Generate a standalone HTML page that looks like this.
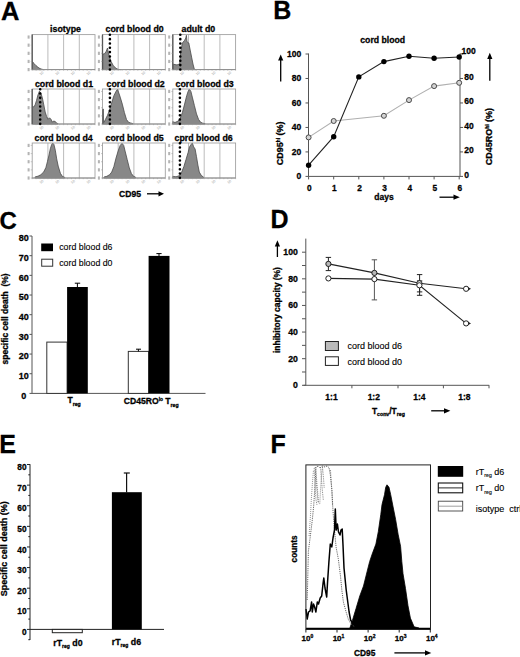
<!DOCTYPE html>
<html><head><meta charset="utf-8"><style>
html,body{margin:0;padding:0;background:#fff;}
svg{display:block;}
text{font-family:"Liberation Sans", sans-serif;}
text{stroke:#000;stroke-width:0.12px;}
text[font-weight=bold]{stroke:#000;stroke-width:0.28px;}
</style></head><body>
<svg width="520" height="657" viewBox="0 0 520 657" font-family='"Liberation Sans", sans-serif'>
<rect width="520" height="657" fill="#fff"/>
<text x="1.0" y="19.5" font-size="25.5" font-weight="bold" text-anchor="start" fill="#000" >A</text>
<line x1="47.9" y1="34.6" x2="47.9" y2="69.6" stroke="#b4b4b4" stroke-width="0.9" />
<line x1="63.6" y1="34.6" x2="63.6" y2="69.6" stroke="#b4b4b4" stroke-width="0.9" />
<line x1="79.3" y1="34.6" x2="79.3" y2="69.6" stroke="#b4b4b4" stroke-width="0.9" />
<polygon points="32.50,69.60 32.50,61.50 34.00,63.60 36.00,65.60 38.00,67.30 40.00,68.60 42.00,69.30 44.00,69.60 44.00,69.60" fill="#888" stroke="#4a4a4a" stroke-width="0.8" stroke-linejoin="round"/>
<rect x="32.2" y="34.6" width="62.8" height="35.0" fill="none" stroke="#a2a2a2" stroke-width="0.9"/>
<line x1="32.2" y1="69.6" x2="95" y2="69.6" stroke="#8a8a8a" stroke-width="0.9" />
<line x1="32.2" y1="34.6" x2="32.2" y2="69.6" stroke="#555" stroke-width="1.3" />
<line x1="32.2" y1="69.6" x2="32.2" y2="70.8" stroke="#999" stroke-width="0.5" />
<line x1="36.12" y1="69.6" x2="36.12" y2="70.8" stroke="#999" stroke-width="0.5" />
<line x1="40.05" y1="69.6" x2="40.05" y2="70.8" stroke="#999" stroke-width="0.5" />
<line x1="43.98" y1="69.6" x2="43.98" y2="70.8" stroke="#999" stroke-width="0.5" />
<line x1="47.9" y1="69.6" x2="47.9" y2="70.8" stroke="#999" stroke-width="0.5" />
<line x1="51.83" y1="69.6" x2="51.83" y2="70.8" stroke="#999" stroke-width="0.5" />
<line x1="55.75" y1="69.6" x2="55.75" y2="70.8" stroke="#999" stroke-width="0.5" />
<line x1="59.67" y1="69.6" x2="59.67" y2="70.8" stroke="#999" stroke-width="0.5" />
<line x1="63.6" y1="69.6" x2="63.6" y2="70.8" stroke="#999" stroke-width="0.5" />
<line x1="67.53" y1="69.6" x2="67.53" y2="70.8" stroke="#999" stroke-width="0.5" />
<line x1="71.45" y1="69.6" x2="71.45" y2="70.8" stroke="#999" stroke-width="0.5" />
<line x1="75.38" y1="69.6" x2="75.38" y2="70.8" stroke="#999" stroke-width="0.5" />
<line x1="79.3" y1="69.6" x2="79.3" y2="70.8" stroke="#999" stroke-width="0.5" />
<line x1="83.22" y1="69.6" x2="83.22" y2="70.8" stroke="#999" stroke-width="0.5" />
<line x1="87.15" y1="69.6" x2="87.15" y2="70.8" stroke="#999" stroke-width="0.5" />
<line x1="91.08" y1="69.6" x2="91.08" y2="70.8" stroke="#999" stroke-width="0.5" />
<line x1="95" y1="69.6" x2="95" y2="70.8" stroke="#999" stroke-width="0.5" />
<line x1="30.7" y1="69.6" x2="32.2" y2="69.6" stroke="#999" stroke-width="0.5" />
<rect x="27.6" y="68.0" width="2" height="3.2" fill="#b4b4b4"/>
<line x1="30.7" y1="61.46" x2="32.2" y2="61.46" stroke="#999" stroke-width="0.5" />
<rect x="27.6" y="59.860465116279066" width="2" height="3.2" fill="#b4b4b4"/>
<line x1="30.7" y1="53.32" x2="32.2" y2="53.32" stroke="#999" stroke-width="0.5" />
<rect x="27.6" y="51.72093023255813" width="2" height="3.2" fill="#b4b4b4"/>
<line x1="30.7" y1="45.18" x2="32.2" y2="45.18" stroke="#999" stroke-width="0.5" />
<rect x="27.6" y="43.5813953488372" width="2" height="3.2" fill="#b4b4b4"/>
<line x1="30.7" y1="37.04" x2="32.2" y2="37.04" stroke="#999" stroke-width="0.5" />
<rect x="27.6" y="35.44186046511627" width="2" height="3.2" fill="#b4b4b4"/>
<text x="40.70" y="75.60" font-size="3.6" fill="#a0a0a0" style="stroke:none" transform="rotate(-40 40.70 75.60)">10</text>
<text x="56.40" y="75.60" font-size="3.6" fill="#a0a0a0" style="stroke:none" transform="rotate(-40 56.40 75.60)">10</text>
<text x="72.10" y="75.60" font-size="3.6" fill="#a0a0a0" style="stroke:none" transform="rotate(-40 72.10 75.60)">10</text>
<text x="87.80" y="75.60" font-size="3.6" fill="#a0a0a0" style="stroke:none" transform="rotate(-40 87.80 75.60)">10</text>
<text x="50.099999999999994" y="32.300000000000004" font-size="8.8" font-weight="bold" text-anchor="start" fill="#000" >isotype</text>
<line x1="118.2" y1="34.6" x2="118.2" y2="69.6" stroke="#b4b4b4" stroke-width="0.9" />
<line x1="133.9" y1="34.6" x2="133.9" y2="69.6" stroke="#b4b4b4" stroke-width="0.9" />
<line x1="149.6" y1="34.6" x2="149.6" y2="69.6" stroke="#b4b4b4" stroke-width="0.9" />
<polygon points="102.60,69.60 102.60,54.30 104.70,53.60 106.10,51.50 107.50,48.00 108.20,52.20 109.60,57.10 111.00,61.30 113.20,65.50 116.00,68.30 118.10,69.40 121.00,69.60 121.00,69.60" fill="#888" stroke="#4a4a4a" stroke-width="0.8" stroke-linejoin="round"/>
<rect x="102.5" y="34.6" width="62.8" height="35.0" fill="none" stroke="#a2a2a2" stroke-width="0.9"/>
<line x1="102.5" y1="69.6" x2="165.3" y2="69.6" stroke="#8a8a8a" stroke-width="0.9" />
<line x1="102.5" y1="34.6" x2="102.5" y2="69.6" stroke="#555" stroke-width="1.3" />
<line x1="102.5" y1="69.6" x2="102.5" y2="70.8" stroke="#999" stroke-width="0.5" />
<line x1="106.42" y1="69.6" x2="106.42" y2="70.8" stroke="#999" stroke-width="0.5" />
<line x1="110.35" y1="69.6" x2="110.35" y2="70.8" stroke="#999" stroke-width="0.5" />
<line x1="114.28" y1="69.6" x2="114.28" y2="70.8" stroke="#999" stroke-width="0.5" />
<line x1="118.2" y1="69.6" x2="118.2" y2="70.8" stroke="#999" stroke-width="0.5" />
<line x1="122.12" y1="69.6" x2="122.12" y2="70.8" stroke="#999" stroke-width="0.5" />
<line x1="126.05" y1="69.6" x2="126.05" y2="70.8" stroke="#999" stroke-width="0.5" />
<line x1="129.97" y1="69.6" x2="129.97" y2="70.8" stroke="#999" stroke-width="0.5" />
<line x1="133.9" y1="69.6" x2="133.9" y2="70.8" stroke="#999" stroke-width="0.5" />
<line x1="137.82" y1="69.6" x2="137.82" y2="70.8" stroke="#999" stroke-width="0.5" />
<line x1="141.75" y1="69.6" x2="141.75" y2="70.8" stroke="#999" stroke-width="0.5" />
<line x1="145.68" y1="69.6" x2="145.68" y2="70.8" stroke="#999" stroke-width="0.5" />
<line x1="149.6" y1="69.6" x2="149.6" y2="70.8" stroke="#999" stroke-width="0.5" />
<line x1="153.53" y1="69.6" x2="153.53" y2="70.8" stroke="#999" stroke-width="0.5" />
<line x1="157.45" y1="69.6" x2="157.45" y2="70.8" stroke="#999" stroke-width="0.5" />
<line x1="161.38" y1="69.6" x2="161.38" y2="70.8" stroke="#999" stroke-width="0.5" />
<line x1="165.3" y1="69.6" x2="165.3" y2="70.8" stroke="#999" stroke-width="0.5" />
<line x1="101" y1="69.6" x2="102.5" y2="69.6" stroke="#999" stroke-width="0.5" />
<rect x="97.9" y="68.0" width="2" height="3.2" fill="#b4b4b4"/>
<line x1="101" y1="61.46" x2="102.5" y2="61.46" stroke="#999" stroke-width="0.5" />
<rect x="97.9" y="59.860465116279066" width="2" height="3.2" fill="#b4b4b4"/>
<line x1="101" y1="53.32" x2="102.5" y2="53.32" stroke="#999" stroke-width="0.5" />
<rect x="97.9" y="51.72093023255813" width="2" height="3.2" fill="#b4b4b4"/>
<line x1="101" y1="45.18" x2="102.5" y2="45.18" stroke="#999" stroke-width="0.5" />
<rect x="97.9" y="43.5813953488372" width="2" height="3.2" fill="#b4b4b4"/>
<line x1="101" y1="37.04" x2="102.5" y2="37.04" stroke="#999" stroke-width="0.5" />
<rect x="97.9" y="35.44186046511627" width="2" height="3.2" fill="#b4b4b4"/>
<text x="111.00" y="75.60" font-size="3.6" fill="#a0a0a0" style="stroke:none" transform="rotate(-40 111.00 75.60)">10</text>
<text x="126.70" y="75.60" font-size="3.6" fill="#a0a0a0" style="stroke:none" transform="rotate(-40 126.70 75.60)">10</text>
<text x="142.40" y="75.60" font-size="3.6" fill="#a0a0a0" style="stroke:none" transform="rotate(-40 142.40 75.60)">10</text>
<text x="158.10" y="75.60" font-size="3.6" fill="#a0a0a0" style="stroke:none" transform="rotate(-40 158.10 75.60)">10</text>
<line x1="109.9" y1="34.800000000000004" x2="109.9" y2="70.19999999999999" stroke="#000" stroke-width="2.6" stroke-linecap="round" stroke-dasharray="0 4.33"/>
<text x="105.5" y="32.300000000000004" font-size="8.8" font-weight="bold" text-anchor="start" fill="#000" >cord blood d0</text>
<line x1="188.5" y1="34.6" x2="188.5" y2="69.6" stroke="#b4b4b4" stroke-width="0.9" />
<line x1="204.2" y1="34.6" x2="204.2" y2="69.6" stroke="#b4b4b4" stroke-width="0.9" />
<line x1="219.9" y1="34.6" x2="219.9" y2="69.6" stroke="#b4b4b4" stroke-width="0.9" />
<polygon points="173.30,69.60 173.30,64.10 175.00,64.60 177.00,64.90 179.60,64.00 181.00,50.10 182.40,43.00 184.60,40.30 185.80,38.00 186.40,35.30 187.00,41.70 188.80,43.00 190.20,50.10 191.60,57.10 193.00,64.10 194.40,69.40 196.00,69.60 196.00,69.60" fill="#888" stroke="#4a4a4a" stroke-width="0.8" stroke-linejoin="round"/>
<rect x="172.8" y="34.6" width="62.8" height="35.0" fill="none" stroke="#a2a2a2" stroke-width="0.9"/>
<line x1="172.8" y1="69.6" x2="235.6" y2="69.6" stroke="#8a8a8a" stroke-width="0.9" />
<line x1="172.8" y1="34.6" x2="172.8" y2="69.6" stroke="#555" stroke-width="1.3" />
<line x1="172.8" y1="69.6" x2="172.8" y2="70.8" stroke="#999" stroke-width="0.5" />
<line x1="176.73" y1="69.6" x2="176.73" y2="70.8" stroke="#999" stroke-width="0.5" />
<line x1="180.65" y1="69.6" x2="180.65" y2="70.8" stroke="#999" stroke-width="0.5" />
<line x1="184.58" y1="69.6" x2="184.58" y2="70.8" stroke="#999" stroke-width="0.5" />
<line x1="188.5" y1="69.6" x2="188.5" y2="70.8" stroke="#999" stroke-width="0.5" />
<line x1="192.43" y1="69.6" x2="192.43" y2="70.8" stroke="#999" stroke-width="0.5" />
<line x1="196.35" y1="69.6" x2="196.35" y2="70.8" stroke="#999" stroke-width="0.5" />
<line x1="200.28" y1="69.6" x2="200.28" y2="70.8" stroke="#999" stroke-width="0.5" />
<line x1="204.2" y1="69.6" x2="204.2" y2="70.8" stroke="#999" stroke-width="0.5" />
<line x1="208.12" y1="69.6" x2="208.12" y2="70.8" stroke="#999" stroke-width="0.5" />
<line x1="212.05" y1="69.6" x2="212.05" y2="70.8" stroke="#999" stroke-width="0.5" />
<line x1="215.98" y1="69.6" x2="215.98" y2="70.8" stroke="#999" stroke-width="0.5" />
<line x1="219.9" y1="69.6" x2="219.9" y2="70.8" stroke="#999" stroke-width="0.5" />
<line x1="223.83" y1="69.6" x2="223.83" y2="70.8" stroke="#999" stroke-width="0.5" />
<line x1="227.75" y1="69.6" x2="227.75" y2="70.8" stroke="#999" stroke-width="0.5" />
<line x1="231.68" y1="69.6" x2="231.68" y2="70.8" stroke="#999" stroke-width="0.5" />
<line x1="235.6" y1="69.6" x2="235.6" y2="70.8" stroke="#999" stroke-width="0.5" />
<line x1="171.3" y1="69.6" x2="172.8" y2="69.6" stroke="#999" stroke-width="0.5" />
<rect x="168.20000000000002" y="68.0" width="2" height="3.2" fill="#b4b4b4"/>
<line x1="171.3" y1="61.46" x2="172.8" y2="61.46" stroke="#999" stroke-width="0.5" />
<rect x="168.20000000000002" y="59.860465116279066" width="2" height="3.2" fill="#b4b4b4"/>
<line x1="171.3" y1="53.32" x2="172.8" y2="53.32" stroke="#999" stroke-width="0.5" />
<rect x="168.20000000000002" y="51.72093023255813" width="2" height="3.2" fill="#b4b4b4"/>
<line x1="171.3" y1="45.18" x2="172.8" y2="45.18" stroke="#999" stroke-width="0.5" />
<rect x="168.20000000000002" y="43.5813953488372" width="2" height="3.2" fill="#b4b4b4"/>
<line x1="171.3" y1="37.04" x2="172.8" y2="37.04" stroke="#999" stroke-width="0.5" />
<rect x="168.20000000000002" y="35.44186046511627" width="2" height="3.2" fill="#b4b4b4"/>
<text x="181.30" y="75.60" font-size="3.6" fill="#a0a0a0" style="stroke:none" transform="rotate(-40 181.30 75.60)">10</text>
<text x="197.00" y="75.60" font-size="3.6" fill="#a0a0a0" style="stroke:none" transform="rotate(-40 197.00 75.60)">10</text>
<text x="212.70" y="75.60" font-size="3.6" fill="#a0a0a0" style="stroke:none" transform="rotate(-40 212.70 75.60)">10</text>
<text x="228.40" y="75.60" font-size="3.6" fill="#a0a0a0" style="stroke:none" transform="rotate(-40 228.40 75.60)">10</text>
<line x1="180.3" y1="34.800000000000004" x2="180.3" y2="70.19999999999999" stroke="#000" stroke-width="2.6" stroke-linecap="round" stroke-dasharray="0 4.33"/>
<text x="181.5" y="32.300000000000004" font-size="8.8" font-weight="bold" text-anchor="start" fill="#000" >adult d0</text>
<line x1="47.9" y1="89" x2="47.9" y2="124" stroke="#b4b4b4" stroke-width="0.9" />
<line x1="63.6" y1="89" x2="63.6" y2="124" stroke="#b4b4b4" stroke-width="0.9" />
<line x1="79.3" y1="89" x2="79.3" y2="124" stroke="#b4b4b4" stroke-width="0.9" />
<polygon points="32.50,124.00 32.50,106.30 33.70,107.00 35.10,104.90 36.50,100.50 38.00,94.80 39.40,91.20 40.90,93.30 42.30,97.60 43.80,104.90 45.20,112.10 46.60,116.40 48.10,119.30 49.50,117.80 51.00,119.30 52.40,122.20 53.50,121.00 55.30,121.50 56.70,123.20 58.00,123.60 58.00,124.00" fill="#888" stroke="#4a4a4a" stroke-width="0.8" stroke-linejoin="round"/>
<rect x="32.2" y="89.0" width="62.8" height="35.0" fill="none" stroke="#a2a2a2" stroke-width="0.9"/>
<line x1="32.2" y1="124" x2="95" y2="124" stroke="#8a8a8a" stroke-width="0.9" />
<line x1="32.2" y1="89" x2="32.2" y2="124" stroke="#555" stroke-width="1.3" />
<line x1="32.2" y1="124" x2="32.2" y2="125.2" stroke="#999" stroke-width="0.5" />
<line x1="36.12" y1="124" x2="36.12" y2="125.2" stroke="#999" stroke-width="0.5" />
<line x1="40.05" y1="124" x2="40.05" y2="125.2" stroke="#999" stroke-width="0.5" />
<line x1="43.98" y1="124" x2="43.98" y2="125.2" stroke="#999" stroke-width="0.5" />
<line x1="47.9" y1="124" x2="47.9" y2="125.2" stroke="#999" stroke-width="0.5" />
<line x1="51.83" y1="124" x2="51.83" y2="125.2" stroke="#999" stroke-width="0.5" />
<line x1="55.75" y1="124" x2="55.75" y2="125.2" stroke="#999" stroke-width="0.5" />
<line x1="59.67" y1="124" x2="59.67" y2="125.2" stroke="#999" stroke-width="0.5" />
<line x1="63.6" y1="124" x2="63.6" y2="125.2" stroke="#999" stroke-width="0.5" />
<line x1="67.53" y1="124" x2="67.53" y2="125.2" stroke="#999" stroke-width="0.5" />
<line x1="71.45" y1="124" x2="71.45" y2="125.2" stroke="#999" stroke-width="0.5" />
<line x1="75.38" y1="124" x2="75.38" y2="125.2" stroke="#999" stroke-width="0.5" />
<line x1="79.3" y1="124" x2="79.3" y2="125.2" stroke="#999" stroke-width="0.5" />
<line x1="83.22" y1="124" x2="83.22" y2="125.2" stroke="#999" stroke-width="0.5" />
<line x1="87.15" y1="124" x2="87.15" y2="125.2" stroke="#999" stroke-width="0.5" />
<line x1="91.08" y1="124" x2="91.08" y2="125.2" stroke="#999" stroke-width="0.5" />
<line x1="95" y1="124" x2="95" y2="125.2" stroke="#999" stroke-width="0.5" />
<line x1="30.7" y1="124" x2="32.2" y2="124" stroke="#999" stroke-width="0.5" />
<rect x="27.6" y="122.4" width="2" height="3.2" fill="#b4b4b4"/>
<line x1="30.7" y1="115.86" x2="32.2" y2="115.86" stroke="#999" stroke-width="0.5" />
<rect x="27.6" y="114.26046511627908" width="2" height="3.2" fill="#b4b4b4"/>
<line x1="30.7" y1="107.72" x2="32.2" y2="107.72" stroke="#999" stroke-width="0.5" />
<rect x="27.6" y="106.12093023255815" width="2" height="3.2" fill="#b4b4b4"/>
<line x1="30.7" y1="99.58" x2="32.2" y2="99.58" stroke="#999" stroke-width="0.5" />
<rect x="27.6" y="97.98139534883721" width="2" height="3.2" fill="#b4b4b4"/>
<line x1="30.7" y1="91.44" x2="32.2" y2="91.44" stroke="#999" stroke-width="0.5" />
<rect x="27.6" y="89.84186046511628" width="2" height="3.2" fill="#b4b4b4"/>
<text x="40.70" y="130.00" font-size="3.6" fill="#a0a0a0" style="stroke:none" transform="rotate(-40 40.70 130.00)">10</text>
<text x="56.40" y="130.00" font-size="3.6" fill="#a0a0a0" style="stroke:none" transform="rotate(-40 56.40 130.00)">10</text>
<text x="72.10" y="130.00" font-size="3.6" fill="#a0a0a0" style="stroke:none" transform="rotate(-40 72.10 130.00)">10</text>
<text x="87.80" y="130.00" font-size="3.6" fill="#a0a0a0" style="stroke:none" transform="rotate(-40 87.80 130.00)">10</text>
<line x1="40.2" y1="89.2" x2="40.2" y2="124.6" stroke="#000" stroke-width="2.6" stroke-linecap="round" stroke-dasharray="0 4.33"/>
<text x="34.9" y="86.7" font-size="8.8" font-weight="bold" text-anchor="start" fill="#000" >cord blood d1</text>
<line x1="118.2" y1="89" x2="118.2" y2="124" stroke="#b4b4b4" stroke-width="0.9" />
<line x1="133.9" y1="89" x2="133.9" y2="124" stroke="#b4b4b4" stroke-width="0.9" />
<line x1="149.6" y1="89" x2="149.6" y2="124" stroke="#b4b4b4" stroke-width="0.9" />
<polygon points="102.60,124.00 102.60,109.00 103.30,109.00 103.60,122.50 104.00,122.30 105.40,119.50 107.50,115.30 109.60,109.70 111.70,102.70 113.90,95.70 116.00,91.40 117.40,89.30 118.80,92.90 120.20,97.10 122.30,104.10 124.40,112.50 126.50,119.50 128.60,122.30 130.70,123.00 133.00,123.60 133.00,124.00" fill="#888" stroke="#4a4a4a" stroke-width="0.8" stroke-linejoin="round"/>
<rect x="102.5" y="89.0" width="62.8" height="35.0" fill="none" stroke="#a2a2a2" stroke-width="0.9"/>
<line x1="102.5" y1="124" x2="165.3" y2="124" stroke="#8a8a8a" stroke-width="0.9" />
<line x1="102.8" y1="109.3" x2="102.8" y2="124" stroke="#666" stroke-width="1.3" />
<line x1="102.5" y1="124" x2="102.5" y2="125.2" stroke="#999" stroke-width="0.5" />
<line x1="106.42" y1="124" x2="106.42" y2="125.2" stroke="#999" stroke-width="0.5" />
<line x1="110.35" y1="124" x2="110.35" y2="125.2" stroke="#999" stroke-width="0.5" />
<line x1="114.28" y1="124" x2="114.28" y2="125.2" stroke="#999" stroke-width="0.5" />
<line x1="118.2" y1="124" x2="118.2" y2="125.2" stroke="#999" stroke-width="0.5" />
<line x1="122.12" y1="124" x2="122.12" y2="125.2" stroke="#999" stroke-width="0.5" />
<line x1="126.05" y1="124" x2="126.05" y2="125.2" stroke="#999" stroke-width="0.5" />
<line x1="129.97" y1="124" x2="129.97" y2="125.2" stroke="#999" stroke-width="0.5" />
<line x1="133.9" y1="124" x2="133.9" y2="125.2" stroke="#999" stroke-width="0.5" />
<line x1="137.82" y1="124" x2="137.82" y2="125.2" stroke="#999" stroke-width="0.5" />
<line x1="141.75" y1="124" x2="141.75" y2="125.2" stroke="#999" stroke-width="0.5" />
<line x1="145.68" y1="124" x2="145.68" y2="125.2" stroke="#999" stroke-width="0.5" />
<line x1="149.6" y1="124" x2="149.6" y2="125.2" stroke="#999" stroke-width="0.5" />
<line x1="153.53" y1="124" x2="153.53" y2="125.2" stroke="#999" stroke-width="0.5" />
<line x1="157.45" y1="124" x2="157.45" y2="125.2" stroke="#999" stroke-width="0.5" />
<line x1="161.38" y1="124" x2="161.38" y2="125.2" stroke="#999" stroke-width="0.5" />
<line x1="165.3" y1="124" x2="165.3" y2="125.2" stroke="#999" stroke-width="0.5" />
<line x1="101" y1="124" x2="102.5" y2="124" stroke="#999" stroke-width="0.5" />
<rect x="97.9" y="122.4" width="2" height="3.2" fill="#b4b4b4"/>
<line x1="101" y1="115.86" x2="102.5" y2="115.86" stroke="#999" stroke-width="0.5" />
<rect x="97.9" y="114.26046511627908" width="2" height="3.2" fill="#b4b4b4"/>
<line x1="101" y1="107.72" x2="102.5" y2="107.72" stroke="#999" stroke-width="0.5" />
<rect x="97.9" y="106.12093023255815" width="2" height="3.2" fill="#b4b4b4"/>
<line x1="101" y1="99.58" x2="102.5" y2="99.58" stroke="#999" stroke-width="0.5" />
<rect x="97.9" y="97.98139534883721" width="2" height="3.2" fill="#b4b4b4"/>
<line x1="101" y1="91.44" x2="102.5" y2="91.44" stroke="#999" stroke-width="0.5" />
<rect x="97.9" y="89.84186046511628" width="2" height="3.2" fill="#b4b4b4"/>
<text x="111.00" y="130.00" font-size="3.6" fill="#a0a0a0" style="stroke:none" transform="rotate(-40 111.00 130.00)">10</text>
<text x="126.70" y="130.00" font-size="3.6" fill="#a0a0a0" style="stroke:none" transform="rotate(-40 126.70 130.00)">10</text>
<text x="142.40" y="130.00" font-size="3.6" fill="#a0a0a0" style="stroke:none" transform="rotate(-40 142.40 130.00)">10</text>
<text x="158.10" y="130.00" font-size="3.6" fill="#a0a0a0" style="stroke:none" transform="rotate(-40 158.10 130.00)">10</text>
<line x1="109.9" y1="89.2" x2="109.9" y2="124.6" stroke="#000" stroke-width="2.6" stroke-linecap="round" stroke-dasharray="0 4.33"/>
<text x="106.6" y="86.7" font-size="8.8" font-weight="bold" text-anchor="start" fill="#000" >cord blood d2</text>
<line x1="188.5" y1="89" x2="188.5" y2="124" stroke="#b4b4b4" stroke-width="0.9" />
<line x1="204.2" y1="89" x2="204.2" y2="124" stroke="#b4b4b4" stroke-width="0.9" />
<line x1="219.9" y1="89" x2="219.9" y2="124" stroke="#b4b4b4" stroke-width="0.9" />
<polygon points="172.60,124.00 172.60,121.60 175.00,122.50 178.20,121.00 180.30,118.10 182.40,112.50 184.60,104.10 186.70,95.70 188.10,91.40 189.50,89.30 190.90,91.40 192.30,97.10 194.40,105.50 196.50,113.90 198.60,119.50 200.70,122.30 202.80,123.20 205.00,123.60 205.00,124.00" fill="#888" stroke="#4a4a4a" stroke-width="0.8" stroke-linejoin="round"/>
<rect x="172.8" y="89.0" width="62.8" height="35.0" fill="none" stroke="#a2a2a2" stroke-width="0.9"/>
<line x1="172.8" y1="124" x2="235.6" y2="124" stroke="#8a8a8a" stroke-width="0.9" />
<line x1="172.8" y1="124" x2="172.8" y2="125.2" stroke="#999" stroke-width="0.5" />
<line x1="176.73" y1="124" x2="176.73" y2="125.2" stroke="#999" stroke-width="0.5" />
<line x1="180.65" y1="124" x2="180.65" y2="125.2" stroke="#999" stroke-width="0.5" />
<line x1="184.58" y1="124" x2="184.58" y2="125.2" stroke="#999" stroke-width="0.5" />
<line x1="188.5" y1="124" x2="188.5" y2="125.2" stroke="#999" stroke-width="0.5" />
<line x1="192.43" y1="124" x2="192.43" y2="125.2" stroke="#999" stroke-width="0.5" />
<line x1="196.35" y1="124" x2="196.35" y2="125.2" stroke="#999" stroke-width="0.5" />
<line x1="200.28" y1="124" x2="200.28" y2="125.2" stroke="#999" stroke-width="0.5" />
<line x1="204.2" y1="124" x2="204.2" y2="125.2" stroke="#999" stroke-width="0.5" />
<line x1="208.12" y1="124" x2="208.12" y2="125.2" stroke="#999" stroke-width="0.5" />
<line x1="212.05" y1="124" x2="212.05" y2="125.2" stroke="#999" stroke-width="0.5" />
<line x1="215.98" y1="124" x2="215.98" y2="125.2" stroke="#999" stroke-width="0.5" />
<line x1="219.9" y1="124" x2="219.9" y2="125.2" stroke="#999" stroke-width="0.5" />
<line x1="223.83" y1="124" x2="223.83" y2="125.2" stroke="#999" stroke-width="0.5" />
<line x1="227.75" y1="124" x2="227.75" y2="125.2" stroke="#999" stroke-width="0.5" />
<line x1="231.68" y1="124" x2="231.68" y2="125.2" stroke="#999" stroke-width="0.5" />
<line x1="235.6" y1="124" x2="235.6" y2="125.2" stroke="#999" stroke-width="0.5" />
<line x1="171.3" y1="124" x2="172.8" y2="124" stroke="#999" stroke-width="0.5" />
<rect x="168.20000000000002" y="122.4" width="2" height="3.2" fill="#b4b4b4"/>
<line x1="171.3" y1="115.86" x2="172.8" y2="115.86" stroke="#999" stroke-width="0.5" />
<rect x="168.20000000000002" y="114.26046511627908" width="2" height="3.2" fill="#b4b4b4"/>
<line x1="171.3" y1="107.72" x2="172.8" y2="107.72" stroke="#999" stroke-width="0.5" />
<rect x="168.20000000000002" y="106.12093023255815" width="2" height="3.2" fill="#b4b4b4"/>
<line x1="171.3" y1="99.58" x2="172.8" y2="99.58" stroke="#999" stroke-width="0.5" />
<rect x="168.20000000000002" y="97.98139534883721" width="2" height="3.2" fill="#b4b4b4"/>
<line x1="171.3" y1="91.44" x2="172.8" y2="91.44" stroke="#999" stroke-width="0.5" />
<rect x="168.20000000000002" y="89.84186046511628" width="2" height="3.2" fill="#b4b4b4"/>
<text x="181.30" y="130.00" font-size="3.6" fill="#a0a0a0" style="stroke:none" transform="rotate(-40 181.30 130.00)">10</text>
<text x="197.00" y="130.00" font-size="3.6" fill="#a0a0a0" style="stroke:none" transform="rotate(-40 197.00 130.00)">10</text>
<text x="212.70" y="130.00" font-size="3.6" fill="#a0a0a0" style="stroke:none" transform="rotate(-40 212.70 130.00)">10</text>
<text x="228.40" y="130.00" font-size="3.6" fill="#a0a0a0" style="stroke:none" transform="rotate(-40 228.40 130.00)">10</text>
<line x1="179.9" y1="89.2" x2="179.9" y2="124.6" stroke="#000" stroke-width="2.6" stroke-linecap="round" stroke-dasharray="0 4.33"/>
<text x="175.5" y="86.7" font-size="8.8" font-weight="bold" text-anchor="start" fill="#000" >cord blood d3</text>
<line x1="47.9" y1="143" x2="47.9" y2="178" stroke="#b4b4b4" stroke-width="0.9" />
<line x1="63.6" y1="143" x2="63.6" y2="178" stroke="#b4b4b4" stroke-width="0.9" />
<line x1="79.3" y1="143" x2="79.3" y2="178" stroke="#b4b4b4" stroke-width="0.9" />
<polygon points="35.10,178.00 35.10,176.90 38.00,176.20 40.90,174.70 43.80,171.80 45.90,167.50 47.40,161.70 48.80,156.00 50.30,148.80 51.70,144.40 52.70,143.00 53.90,144.40 55.30,150.20 56.70,158.90 58.20,166.10 60.40,173.30 62.50,176.50 64.70,177.30 64.70,178.00" fill="#888" stroke="#4a4a4a" stroke-width="0.8" stroke-linejoin="round"/>
<rect x="32.2" y="143.0" width="62.8" height="35.0" fill="none" stroke="#a2a2a2" stroke-width="0.9"/>
<line x1="32.2" y1="178" x2="95" y2="178" stroke="#8a8a8a" stroke-width="0.9" />
<line x1="32.2" y1="178" x2="32.2" y2="179.2" stroke="#999" stroke-width="0.5" />
<line x1="36.12" y1="178" x2="36.12" y2="179.2" stroke="#999" stroke-width="0.5" />
<line x1="40.05" y1="178" x2="40.05" y2="179.2" stroke="#999" stroke-width="0.5" />
<line x1="43.98" y1="178" x2="43.98" y2="179.2" stroke="#999" stroke-width="0.5" />
<line x1="47.9" y1="178" x2="47.9" y2="179.2" stroke="#999" stroke-width="0.5" />
<line x1="51.83" y1="178" x2="51.83" y2="179.2" stroke="#999" stroke-width="0.5" />
<line x1="55.75" y1="178" x2="55.75" y2="179.2" stroke="#999" stroke-width="0.5" />
<line x1="59.67" y1="178" x2="59.67" y2="179.2" stroke="#999" stroke-width="0.5" />
<line x1="63.6" y1="178" x2="63.6" y2="179.2" stroke="#999" stroke-width="0.5" />
<line x1="67.53" y1="178" x2="67.53" y2="179.2" stroke="#999" stroke-width="0.5" />
<line x1="71.45" y1="178" x2="71.45" y2="179.2" stroke="#999" stroke-width="0.5" />
<line x1="75.38" y1="178" x2="75.38" y2="179.2" stroke="#999" stroke-width="0.5" />
<line x1="79.3" y1="178" x2="79.3" y2="179.2" stroke="#999" stroke-width="0.5" />
<line x1="83.22" y1="178" x2="83.22" y2="179.2" stroke="#999" stroke-width="0.5" />
<line x1="87.15" y1="178" x2="87.15" y2="179.2" stroke="#999" stroke-width="0.5" />
<line x1="91.08" y1="178" x2="91.08" y2="179.2" stroke="#999" stroke-width="0.5" />
<line x1="95" y1="178" x2="95" y2="179.2" stroke="#999" stroke-width="0.5" />
<line x1="30.7" y1="178" x2="32.2" y2="178" stroke="#999" stroke-width="0.5" />
<rect x="27.6" y="176.4" width="2" height="3.2" fill="#b4b4b4"/>
<line x1="30.7" y1="169.86" x2="32.2" y2="169.86" stroke="#999" stroke-width="0.5" />
<rect x="27.6" y="168.26046511627908" width="2" height="3.2" fill="#b4b4b4"/>
<line x1="30.7" y1="161.72" x2="32.2" y2="161.72" stroke="#999" stroke-width="0.5" />
<rect x="27.6" y="160.12093023255815" width="2" height="3.2" fill="#b4b4b4"/>
<line x1="30.7" y1="153.58" x2="32.2" y2="153.58" stroke="#999" stroke-width="0.5" />
<rect x="27.6" y="151.98139534883722" width="2" height="3.2" fill="#b4b4b4"/>
<line x1="30.7" y1="145.44" x2="32.2" y2="145.44" stroke="#999" stroke-width="0.5" />
<rect x="27.6" y="143.8418604651163" width="2" height="3.2" fill="#b4b4b4"/>
<text x="40.70" y="184.00" font-size="3.6" fill="#a0a0a0" style="stroke:none" transform="rotate(-40 40.70 184.00)">10</text>
<text x="56.40" y="184.00" font-size="3.6" fill="#a0a0a0" style="stroke:none" transform="rotate(-40 56.40 184.00)">10</text>
<text x="72.10" y="184.00" font-size="3.6" fill="#a0a0a0" style="stroke:none" transform="rotate(-40 72.10 184.00)">10</text>
<text x="87.80" y="184.00" font-size="3.6" fill="#a0a0a0" style="stroke:none" transform="rotate(-40 87.80 184.00)">10</text>
<text x="34.599999999999994" y="140.7" font-size="8.8" font-weight="bold" text-anchor="start" fill="#000" >cord blood d4</text>
<line x1="118.2" y1="143" x2="118.2" y2="178" stroke="#b4b4b4" stroke-width="0.9" />
<line x1="133.9" y1="143" x2="133.9" y2="178" stroke="#b4b4b4" stroke-width="0.9" />
<line x1="149.6" y1="143" x2="149.6" y2="178" stroke="#b4b4b4" stroke-width="0.9" />
<polygon points="104.00,178.00 104.00,177.00 106.80,176.30 109.60,174.70 111.70,172.10 113.90,166.50 116.00,158.10 118.10,151.10 120.20,145.40 122.00,143.30 123.70,145.40 125.10,151.10 127.20,159.50 129.30,167.90 131.40,173.50 133.50,176.30 135.60,177.20 135.60,178.00" fill="#888" stroke="#4a4a4a" stroke-width="0.8" stroke-linejoin="round"/>
<rect x="102.5" y="143.0" width="62.8" height="35.0" fill="none" stroke="#a2a2a2" stroke-width="0.9"/>
<line x1="102.5" y1="178" x2="165.3" y2="178" stroke="#8a8a8a" stroke-width="0.9" />
<line x1="102.5" y1="178" x2="102.5" y2="179.2" stroke="#999" stroke-width="0.5" />
<line x1="106.42" y1="178" x2="106.42" y2="179.2" stroke="#999" stroke-width="0.5" />
<line x1="110.35" y1="178" x2="110.35" y2="179.2" stroke="#999" stroke-width="0.5" />
<line x1="114.28" y1="178" x2="114.28" y2="179.2" stroke="#999" stroke-width="0.5" />
<line x1="118.2" y1="178" x2="118.2" y2="179.2" stroke="#999" stroke-width="0.5" />
<line x1="122.12" y1="178" x2="122.12" y2="179.2" stroke="#999" stroke-width="0.5" />
<line x1="126.05" y1="178" x2="126.05" y2="179.2" stroke="#999" stroke-width="0.5" />
<line x1="129.97" y1="178" x2="129.97" y2="179.2" stroke="#999" stroke-width="0.5" />
<line x1="133.9" y1="178" x2="133.9" y2="179.2" stroke="#999" stroke-width="0.5" />
<line x1="137.82" y1="178" x2="137.82" y2="179.2" stroke="#999" stroke-width="0.5" />
<line x1="141.75" y1="178" x2="141.75" y2="179.2" stroke="#999" stroke-width="0.5" />
<line x1="145.68" y1="178" x2="145.68" y2="179.2" stroke="#999" stroke-width="0.5" />
<line x1="149.6" y1="178" x2="149.6" y2="179.2" stroke="#999" stroke-width="0.5" />
<line x1="153.53" y1="178" x2="153.53" y2="179.2" stroke="#999" stroke-width="0.5" />
<line x1="157.45" y1="178" x2="157.45" y2="179.2" stroke="#999" stroke-width="0.5" />
<line x1="161.38" y1="178" x2="161.38" y2="179.2" stroke="#999" stroke-width="0.5" />
<line x1="165.3" y1="178" x2="165.3" y2="179.2" stroke="#999" stroke-width="0.5" />
<line x1="101" y1="178" x2="102.5" y2="178" stroke="#999" stroke-width="0.5" />
<rect x="97.9" y="176.4" width="2" height="3.2" fill="#b4b4b4"/>
<line x1="101" y1="169.86" x2="102.5" y2="169.86" stroke="#999" stroke-width="0.5" />
<rect x="97.9" y="168.26046511627908" width="2" height="3.2" fill="#b4b4b4"/>
<line x1="101" y1="161.72" x2="102.5" y2="161.72" stroke="#999" stroke-width="0.5" />
<rect x="97.9" y="160.12093023255815" width="2" height="3.2" fill="#b4b4b4"/>
<line x1="101" y1="153.58" x2="102.5" y2="153.58" stroke="#999" stroke-width="0.5" />
<rect x="97.9" y="151.98139534883722" width="2" height="3.2" fill="#b4b4b4"/>
<line x1="101" y1="145.44" x2="102.5" y2="145.44" stroke="#999" stroke-width="0.5" />
<rect x="97.9" y="143.8418604651163" width="2" height="3.2" fill="#b4b4b4"/>
<text x="111.00" y="184.00" font-size="3.6" fill="#a0a0a0" style="stroke:none" transform="rotate(-40 111.00 184.00)">10</text>
<text x="126.70" y="184.00" font-size="3.6" fill="#a0a0a0" style="stroke:none" transform="rotate(-40 126.70 184.00)">10</text>
<text x="142.40" y="184.00" font-size="3.6" fill="#a0a0a0" style="stroke:none" transform="rotate(-40 142.40 184.00)">10</text>
<text x="158.10" y="184.00" font-size="3.6" fill="#a0a0a0" style="stroke:none" transform="rotate(-40 158.10 184.00)">10</text>
<text x="105.5" y="140.7" font-size="8.8" font-weight="bold" text-anchor="start" fill="#000" >cord blood d5</text>
<line x1="188.5" y1="143" x2="188.5" y2="178" stroke="#b4b4b4" stroke-width="0.9" />
<line x1="204.2" y1="143" x2="204.2" y2="178" stroke="#b4b4b4" stroke-width="0.9" />
<line x1="219.9" y1="143" x2="219.9" y2="178" stroke="#b4b4b4" stroke-width="0.9" />
<polygon points="172.60,178.00 172.60,176.30 176.00,176.80 179.60,175.60 181.70,172.10 183.90,166.50 186.00,159.50 188.10,152.50 189.50,146.90 190.90,144.70 192.30,142.90 193.70,146.90 195.10,149.00 196.50,156.70 197.90,165.10 199.30,172.10 201.40,175.60 203.50,177.00 203.50,178.00" fill="#888" stroke="#4a4a4a" stroke-width="0.8" stroke-linejoin="round"/>
<rect x="172.8" y="143.0" width="62.8" height="35.0" fill="none" stroke="#a2a2a2" stroke-width="0.9"/>
<line x1="172.8" y1="178" x2="235.6" y2="178" stroke="#8a8a8a" stroke-width="0.9" />
<line x1="172.8" y1="178" x2="172.8" y2="179.2" stroke="#999" stroke-width="0.5" />
<line x1="176.73" y1="178" x2="176.73" y2="179.2" stroke="#999" stroke-width="0.5" />
<line x1="180.65" y1="178" x2="180.65" y2="179.2" stroke="#999" stroke-width="0.5" />
<line x1="184.58" y1="178" x2="184.58" y2="179.2" stroke="#999" stroke-width="0.5" />
<line x1="188.5" y1="178" x2="188.5" y2="179.2" stroke="#999" stroke-width="0.5" />
<line x1="192.43" y1="178" x2="192.43" y2="179.2" stroke="#999" stroke-width="0.5" />
<line x1="196.35" y1="178" x2="196.35" y2="179.2" stroke="#999" stroke-width="0.5" />
<line x1="200.28" y1="178" x2="200.28" y2="179.2" stroke="#999" stroke-width="0.5" />
<line x1="204.2" y1="178" x2="204.2" y2="179.2" stroke="#999" stroke-width="0.5" />
<line x1="208.12" y1="178" x2="208.12" y2="179.2" stroke="#999" stroke-width="0.5" />
<line x1="212.05" y1="178" x2="212.05" y2="179.2" stroke="#999" stroke-width="0.5" />
<line x1="215.98" y1="178" x2="215.98" y2="179.2" stroke="#999" stroke-width="0.5" />
<line x1="219.9" y1="178" x2="219.9" y2="179.2" stroke="#999" stroke-width="0.5" />
<line x1="223.83" y1="178" x2="223.83" y2="179.2" stroke="#999" stroke-width="0.5" />
<line x1="227.75" y1="178" x2="227.75" y2="179.2" stroke="#999" stroke-width="0.5" />
<line x1="231.68" y1="178" x2="231.68" y2="179.2" stroke="#999" stroke-width="0.5" />
<line x1="235.6" y1="178" x2="235.6" y2="179.2" stroke="#999" stroke-width="0.5" />
<line x1="171.3" y1="178" x2="172.8" y2="178" stroke="#999" stroke-width="0.5" />
<rect x="168.20000000000002" y="176.4" width="2" height="3.2" fill="#b4b4b4"/>
<line x1="171.3" y1="169.86" x2="172.8" y2="169.86" stroke="#999" stroke-width="0.5" />
<rect x="168.20000000000002" y="168.26046511627908" width="2" height="3.2" fill="#b4b4b4"/>
<line x1="171.3" y1="161.72" x2="172.8" y2="161.72" stroke="#999" stroke-width="0.5" />
<rect x="168.20000000000002" y="160.12093023255815" width="2" height="3.2" fill="#b4b4b4"/>
<line x1="171.3" y1="153.58" x2="172.8" y2="153.58" stroke="#999" stroke-width="0.5" />
<rect x="168.20000000000002" y="151.98139534883722" width="2" height="3.2" fill="#b4b4b4"/>
<line x1="171.3" y1="145.44" x2="172.8" y2="145.44" stroke="#999" stroke-width="0.5" />
<rect x="168.20000000000002" y="143.8418604651163" width="2" height="3.2" fill="#b4b4b4"/>
<text x="181.30" y="184.00" font-size="3.6" fill="#a0a0a0" style="stroke:none" transform="rotate(-40 181.30 184.00)">10</text>
<text x="197.00" y="184.00" font-size="3.6" fill="#a0a0a0" style="stroke:none" transform="rotate(-40 197.00 184.00)">10</text>
<text x="212.70" y="184.00" font-size="3.6" fill="#a0a0a0" style="stroke:none" transform="rotate(-40 212.70 184.00)">10</text>
<text x="228.40" y="184.00" font-size="3.6" fill="#a0a0a0" style="stroke:none" transform="rotate(-40 228.40 184.00)">10</text>
<line x1="179.9" y1="143.2" x2="179.9" y2="178.6" stroke="#000" stroke-width="2.6" stroke-linecap="round" stroke-dasharray="0 4.33"/>
<text x="174.5" y="140.7" font-size="8.8" font-weight="bold" text-anchor="start" fill="#000" >cprd blood d6</text>
<text x="119.0" y="196.6" font-size="8.6" font-weight="bold" text-anchor="start" fill="#000" >CD95</text>
<line x1="147" y1="193.8" x2="159.5" y2="193.8" stroke="#000" stroke-width="1.3" />
<polygon points="158.5,191.2 164,193.8 158.5,196.4" fill="#000"/>
<text x="273.3" y="19.4" font-size="25" font-weight="bold" text-anchor="start" fill="#000" >B</text>
<text x="382.7" y="42.8" font-size="8.7" font-weight="bold" text-anchor="middle" fill="#000" >cord blood</text>
<line x1="308.5" y1="53.5" x2="308.5" y2="176.4" stroke="#555" stroke-width="1" />
<line x1="460" y1="53.5" x2="460" y2="176.4" stroke="#555" stroke-width="1" />
<line x1="308.5" y1="176.4" x2="460" y2="176.4" stroke="#555" stroke-width="1" />
<line x1="305.5" y1="176.4" x2="308.5" y2="176.4" stroke="#555" stroke-width="1" />
<line x1="460" y1="176.4" x2="463" y2="176.4" stroke="#555" stroke-width="1" />
<text x="301.3" y="179.4" font-size="8.5" font-weight="bold" text-anchor="end" fill="#000" >0</text>
<text x="464.3" y="177.9" font-size="8.5" font-weight="bold" text-anchor="start" fill="#000" >0</text>
<line x1="305.5" y1="151.92" x2="308.5" y2="151.92" stroke="#555" stroke-width="1" />
<line x1="460" y1="151.92" x2="463" y2="151.92" stroke="#555" stroke-width="1" />
<text x="301.3" y="154.92000000000002" font-size="8.5" font-weight="bold" text-anchor="end" fill="#000" >20</text>
<text x="464.3" y="153.42000000000002" font-size="8.5" font-weight="bold" text-anchor="start" fill="#000" >20</text>
<line x1="305.5" y1="127.44" x2="308.5" y2="127.44" stroke="#555" stroke-width="1" />
<line x1="460" y1="127.44" x2="463" y2="127.44" stroke="#555" stroke-width="1" />
<text x="301.3" y="130.44" font-size="8.5" font-weight="bold" text-anchor="end" fill="#000" >40</text>
<text x="464.3" y="128.94" font-size="8.5" font-weight="bold" text-anchor="start" fill="#000" >40</text>
<line x1="305.5" y1="102.96" x2="308.5" y2="102.96" stroke="#555" stroke-width="1" />
<line x1="460" y1="102.96" x2="463" y2="102.96" stroke="#555" stroke-width="1" />
<text x="301.3" y="105.96000000000001" font-size="8.5" font-weight="bold" text-anchor="end" fill="#000" >60</text>
<text x="464.3" y="104.46000000000001" font-size="8.5" font-weight="bold" text-anchor="start" fill="#000" >60</text>
<line x1="305.5" y1="78.48" x2="308.5" y2="78.48" stroke="#555" stroke-width="1" />
<line x1="460" y1="78.48" x2="463" y2="78.48" stroke="#555" stroke-width="1" />
<text x="301.3" y="81.48" font-size="8.5" font-weight="bold" text-anchor="end" fill="#000" >80</text>
<text x="464.3" y="79.98" font-size="8.5" font-weight="bold" text-anchor="start" fill="#000" >80</text>
<line x1="305.5" y1="54" x2="308.5" y2="54" stroke="#555" stroke-width="1" />
<line x1="460" y1="54" x2="463" y2="54" stroke="#555" stroke-width="1" />
<text x="301.3" y="57.0" font-size="8.5" font-weight="bold" text-anchor="end" fill="#000" >100</text>
<text x="461.5" y="54.4" font-size="8.5" font-weight="bold" text-anchor="start" fill="#000" >100</text>
<line x1="308.6" y1="176.4" x2="308.6" y2="179.4" stroke="#555" stroke-width="1" />
<text x="309.3" y="190.9" font-size="8.3" font-weight="bold" text-anchor="middle" fill="#000" >0</text>
<line x1="333.7" y1="176.4" x2="333.7" y2="179.4" stroke="#555" stroke-width="1" />
<text x="334.40000000000003" y="190.9" font-size="8.3" font-weight="bold" text-anchor="middle" fill="#000" >1</text>
<line x1="358.8" y1="176.4" x2="358.8" y2="179.4" stroke="#555" stroke-width="1" />
<text x="359.5" y="190.9" font-size="8.3" font-weight="bold" text-anchor="middle" fill="#000" >2</text>
<line x1="383.9" y1="176.4" x2="383.9" y2="179.4" stroke="#555" stroke-width="1" />
<text x="384.6" y="190.9" font-size="8.3" font-weight="bold" text-anchor="middle" fill="#000" >3</text>
<line x1="409" y1="176.4" x2="409" y2="179.4" stroke="#555" stroke-width="1" />
<text x="409.7" y="190.9" font-size="8.3" font-weight="bold" text-anchor="middle" fill="#000" >4</text>
<line x1="434.1" y1="176.4" x2="434.1" y2="179.4" stroke="#555" stroke-width="1" />
<text x="434.8" y="190.9" font-size="8.3" font-weight="bold" text-anchor="middle" fill="#000" >5</text>
<line x1="459.2" y1="176.4" x2="459.2" y2="179.4" stroke="#555" stroke-width="1" />
<text x="459.90000000000003" y="190.9" font-size="8.3" font-weight="bold" text-anchor="middle" fill="#000" >6</text>
<text x="384.0" y="200.2" font-size="8.5" font-weight="bold" text-anchor="middle" fill="#000" >days</text>
<line x1="439.5" y1="197.2" x2="454.5" y2="197.2" stroke="#000" stroke-width="1.3" />
<polygon points="453.5,194.6 459.8,197.2 453.5,199.8" fill="#000"/>
<line x1="280.7" y1="60" x2="280.7" y2="81.6" stroke="#000" stroke-width="1.3" />
<polygon points="278.1,60.5 280.7,54.5 283.3,60.5" fill="#000"/>
<line x1="489.8" y1="58.5" x2="489.8" y2="80.7" stroke="#000" stroke-width="1.3" />
<polygon points="487.2,59 489.8,52.8 492.4,59" fill="#000"/>
<text transform="translate(282.6,165.2) rotate(-90)" font-size="9" font-weight="bold">CD95<tspan font-size="4.8" dy="-3">hi</tspan><tspan dy="3"> (%)</tspan></text>
<text transform="translate(492.4,165.2) rotate(-90)" font-size="9" font-weight="bold">CD45RO<tspan font-size="4.8" dy="-3">hi</tspan><tspan dy="3"> (%)</tspan></text>
<polyline points="308.60,137.40 333.70,121.00 383.90,115.80 409.00,100.10 434.10,86.10 459.20,82.80" fill="none" stroke="#b0b0b0" stroke-width="1.1"/>
<polyline points="308.60,165.20 333.70,136.70 358.80,76.90 383.90,61.60 409.00,56.30 434.10,58.30 459.20,57.00" fill="none" stroke="#222" stroke-width="1.1"/>
<circle cx="308.6" cy="137.4" r="2.5" fill="#d4d4d4" stroke="#4a4a4a" stroke-width="1"/>
<circle cx="333.70000000000005" cy="121.0" r="2.5" fill="#d4d4d4" stroke="#4a4a4a" stroke-width="1"/>
<circle cx="383.90000000000003" cy="115.8" r="2.5" fill="#d4d4d4" stroke="#4a4a4a" stroke-width="1"/>
<circle cx="409.0" cy="100.1" r="2.5" fill="#d4d4d4" stroke="#4a4a4a" stroke-width="1"/>
<circle cx="434.1" cy="86.1" r="2.5" fill="#d4d4d4" stroke="#4a4a4a" stroke-width="1"/>
<circle cx="459.20000000000005" cy="82.8" r="2.5" fill="#d4d4d4" stroke="#4a4a4a" stroke-width="1"/>
<circle cx="308.6" cy="165.2" r="2.7" fill="#000"/>
<circle cx="333.70000000000005" cy="136.7" r="2.7" fill="#000"/>
<circle cx="358.8" cy="76.9" r="2.7" fill="#000"/>
<circle cx="383.90000000000003" cy="61.6" r="2.7" fill="#000"/>
<circle cx="409.0" cy="56.3" r="2.7" fill="#000"/>
<circle cx="434.1" cy="58.3" r="2.7" fill="#000"/>
<circle cx="459.20000000000005" cy="57.0" r="2.7" fill="#000"/>
<text x="-0.4" y="228.6" font-size="24" font-weight="bold" text-anchor="start" fill="#000" >C</text>
<line x1="32" y1="236" x2="32" y2="393.4" stroke="#555" stroke-width="1" />
<line x1="32" y1="393.4" x2="205.5" y2="393.4" stroke="#555" stroke-width="1" />
<line x1="29.5" y1="393.4" x2="32" y2="393.4" stroke="#555" stroke-width="1" />
<text x="23.7" y="398.59999999999997" font-size="9" font-weight="bold" text-anchor="middle" fill="#000" >0</text>
<line x1="29.5" y1="373.72" x2="32" y2="373.72" stroke="#555" stroke-width="1" />
<text x="23.7" y="378.92499999999995" font-size="9" font-weight="bold" text-anchor="middle" fill="#000" >10</text>
<line x1="29.5" y1="354.05" x2="32" y2="354.05" stroke="#555" stroke-width="1" />
<text x="23.7" y="359.24999999999994" font-size="9" font-weight="bold" text-anchor="middle" fill="#000" >20</text>
<line x1="29.5" y1="334.38" x2="32" y2="334.38" stroke="#555" stroke-width="1" />
<text x="23.7" y="339.575" font-size="9" font-weight="bold" text-anchor="middle" fill="#000" >30</text>
<line x1="29.5" y1="314.7" x2="32" y2="314.7" stroke="#555" stroke-width="1" />
<text x="23.7" y="319.9" font-size="9" font-weight="bold" text-anchor="middle" fill="#000" >40</text>
<line x1="29.5" y1="295.02" x2="32" y2="295.02" stroke="#555" stroke-width="1" />
<text x="23.7" y="300.22499999999997" font-size="9" font-weight="bold" text-anchor="middle" fill="#000" >50</text>
<line x1="29.5" y1="275.35" x2="32" y2="275.35" stroke="#555" stroke-width="1" />
<text x="23.7" y="280.55" font-size="9" font-weight="bold" text-anchor="middle" fill="#000" >60</text>
<line x1="29.5" y1="255.68" x2="32" y2="255.68" stroke="#555" stroke-width="1" />
<text x="23.7" y="260.875" font-size="9" font-weight="bold" text-anchor="middle" fill="#000" >70</text>
<line x1="29.5" y1="236" x2="32" y2="236" stroke="#555" stroke-width="1" />
<text x="23.7" y="241.2" font-size="9" font-weight="bold" text-anchor="middle" fill="#000" >80</text>
<rect x="46.8" y="342.1" width="20.3" height="51.299999999999955" fill="#fff" stroke="#333" stroke-width="1"/>
<rect x="67.1" y="287.0" width="20.7" height="106.39999999999998" fill="#000"/>
<line x1="77.4" y1="283.2" x2="77.4" y2="287" stroke="#000" stroke-width="1" />
<line x1="74.8" y1="283.2" x2="80.2" y2="283.2" stroke="#000" stroke-width="1" />
<rect x="128.3" y="351.4" width="20.3" height="42.0" fill="#fff" stroke="#333" stroke-width="1"/>
<line x1="138.4" y1="349.2" x2="138.4" y2="351.4" stroke="#000" stroke-width="1" />
<line x1="136" y1="349.2" x2="141" y2="349.2" stroke="#000" stroke-width="1" />
<rect x="148.6" y="255.9" width="20.9" height="137.49999999999997" fill="#000"/>
<line x1="159" y1="253.6" x2="159" y2="256" stroke="#000" stroke-width="1" />
<line x1="156.4" y1="253.6" x2="161.6" y2="253.6" stroke="#000" stroke-width="1" />
<rect x="41.2" y="243.5" width="11.8" height="7.7" fill="#000"/>
<rect x="41.7" y="259.2" width="11" height="7" fill="#fff" stroke="#333" stroke-width="1"/>
<text x="59.2" y="250.3" font-size="8.8" font-weight="normal" text-anchor="start" fill="#000" >cord blood d6</text>
<text x="59.2" y="265.9" font-size="8.8" font-weight="normal" text-anchor="start" fill="#000" >cord blood d0</text>
<text x="67.4" y="403.2" font-size="8.6" font-weight="bold">T<tspan font-size="5.2" dy="2.8">reg</tspan></text>
<text x="123.8" y="404" font-size="8.6" font-weight="bold">CD45RO<tspan font-size="4.8" dy="-3">lo</tspan><tspan dy="3"> T</tspan><tspan font-size="5.2" dy="2.8">reg</tspan></text>
<text transform="translate(8.3,364.5) rotate(-90)" font-size="8.5" font-weight="bold" style="white-space:pre">specific cell death  (%)</text>
<text x="270.6" y="227.6" font-size="25" font-weight="bold" text-anchor="start" fill="#000" >D</text>
<line x1="305.8" y1="238.6" x2="305.8" y2="385.3" stroke="#555" stroke-width="1" />
<line x1="303.5" y1="385.3" x2="489.2" y2="385.3" stroke="#555" stroke-width="1" />
<line x1="302" y1="385.3" x2="305.8" y2="385.3" stroke="#555" stroke-width="1" />
<text x="297.8" y="388.3" font-size="8.7" font-weight="bold" text-anchor="end" fill="#000" >0</text>
<line x1="302" y1="371.99" x2="305.8" y2="371.99" stroke="#555" stroke-width="1" />
<line x1="302" y1="358.68" x2="305.8" y2="358.68" stroke="#555" stroke-width="1" />
<text x="297.8" y="361.68" font-size="8.7" font-weight="bold" text-anchor="end" fill="#000" >20</text>
<line x1="302" y1="345.37" x2="305.8" y2="345.37" stroke="#555" stroke-width="1" />
<line x1="302" y1="332.06" x2="305.8" y2="332.06" stroke="#555" stroke-width="1" />
<text x="297.8" y="335.06" font-size="8.7" font-weight="bold" text-anchor="end" fill="#000" >40</text>
<line x1="302" y1="318.75" x2="305.8" y2="318.75" stroke="#555" stroke-width="1" />
<line x1="302" y1="305.44" x2="305.8" y2="305.44" stroke="#555" stroke-width="1" />
<text x="297.8" y="308.44" font-size="8.7" font-weight="bold" text-anchor="end" fill="#000" >60</text>
<line x1="302" y1="292.13" x2="305.8" y2="292.13" stroke="#555" stroke-width="1" />
<line x1="302" y1="278.82" x2="305.8" y2="278.82" stroke="#555" stroke-width="1" />
<text x="297.8" y="281.82" font-size="8.7" font-weight="bold" text-anchor="end" fill="#000" >80</text>
<line x1="302" y1="265.51" x2="305.8" y2="265.51" stroke="#555" stroke-width="1" />
<line x1="302" y1="252.2" x2="305.8" y2="252.2" stroke="#555" stroke-width="1" />
<text x="297.8" y="255.2" font-size="8.7" font-weight="bold" text-anchor="end" fill="#000" >100</text>
<line x1="351.9" y1="385.3" x2="351.9" y2="388.3" stroke="#555" stroke-width="1" />
<line x1="398" y1="385.3" x2="398" y2="388.3" stroke="#555" stroke-width="1" />
<line x1="443.4" y1="385.3" x2="443.4" y2="388.3" stroke="#555" stroke-width="1" />
<line x1="489" y1="385.3" x2="489" y2="388.3" stroke="#555" stroke-width="1" />
<text x="331.5" y="400.0" font-size="8.5" font-weight="bold" text-anchor="middle" fill="#000" >1:1</text>
<text x="373.8" y="400.0" font-size="8.5" font-weight="bold" text-anchor="middle" fill="#000" >1:2</text>
<text x="419.4" y="400.0" font-size="8.5" font-weight="bold" text-anchor="middle" fill="#000" >1:4</text>
<text x="464.4" y="400.0" font-size="8.5" font-weight="bold" text-anchor="middle" fill="#000" >1:8</text>
<text x="371.9" y="414.2" font-size="8.5" font-weight="bold">T<tspan font-size="5.2" dy="1.8">conv</tspan><tspan dy="-1.8">/T</tspan><tspan font-size="5.2" dy="1.8">reg</tspan></text>
<line x1="431.2" y1="410.8" x2="445" y2="410.8" stroke="#000" stroke-width="1.3" />
<polygon points="444,408.2 450.4,410.8 444,413.4" fill="#000"/>
<line x1="277.4" y1="246" x2="277.4" y2="257" stroke="#000" stroke-width="1.3" />
<polygon points="274.8,246.5 277.4,240.3 280,246.5" fill="#000"/>
<text transform="translate(279.8,353) rotate(-90)" font-size="8.5" font-weight="bold">inhibitory capcity (%)</text>
<line x1="328.4" y1="257.4" x2="328.4" y2="270.6" stroke="#222" stroke-width="1" />
<line x1="325.7" y1="257.4" x2="331.1" y2="257.4" stroke="#222" stroke-width="1" />
<line x1="325.7" y1="270.6" x2="331.1" y2="270.6" stroke="#222" stroke-width="1" />
<line x1="374.4" y1="259.8" x2="374.4" y2="299.9" stroke="#555" stroke-width="1" />
<line x1="371.7" y1="259.8" x2="377.1" y2="259.8" stroke="#555" stroke-width="1" />
<line x1="371.7" y1="299.9" x2="377.1" y2="299.9" stroke="#555" stroke-width="1" />
<line x1="419.6" y1="274.6" x2="419.6" y2="295.3" stroke="#222" stroke-width="1" />
<line x1="416.9" y1="274.6" x2="422.3" y2="274.6" stroke="#222" stroke-width="1" />
<line x1="416.9" y1="295.3" x2="422.3" y2="295.3" stroke="#222" stroke-width="1" />
<line x1="419.6" y1="280.9" x2="419.6" y2="291.9" stroke="#222" stroke-width="1" />
<line x1="416.9" y1="280.9" x2="422.3" y2="280.9" stroke="#222" stroke-width="1" />
<line x1="416.9" y1="291.9" x2="422.3" y2="291.9" stroke="#222" stroke-width="1" />
<polyline points="328.40,263.90 374.40,272.90 419.40,283.30 466.10,288.80" fill="none" stroke="#222" stroke-width="1.1"/>
<polyline points="328.40,278.40 374.40,279.10 419.40,285.30 466.10,323.40" fill="none" stroke="#222" stroke-width="1.1"/>
<circle cx="328.4" cy="263.9" r="2.6" fill="#b8b8b8" stroke="#222" stroke-width="1"/>
<circle cx="374.4" cy="272.9" r="2.6" fill="#b8b8b8" stroke="#222" stroke-width="1"/>
<circle cx="419.4" cy="283.3" r="2.6" fill="#fff" stroke="#222" stroke-width="1"/>
<circle cx="466.1" cy="288.8" r="2.6" fill="#fff" stroke="#222" stroke-width="1"/>
<circle cx="328.4" cy="278.4" r="2.6" fill="#fff" stroke="#222" stroke-width="1"/>
<circle cx="374.4" cy="279.1" r="2.6" fill="#fff" stroke="#222" stroke-width="1"/>
<circle cx="419.4" cy="285.3" r="2.6" fill="#fff" stroke="#222" stroke-width="1"/>
<circle cx="466.1" cy="323.4" r="2.6" fill="#fff" stroke="#222" stroke-width="1"/>
<polygon points="468.2,287.2 471,288.8 468.2,290.40000000000003" fill="#222"/>
<polygon points="468.2,321.79999999999995 471,323.4 468.2,325.0" fill="#222"/>
<rect x="325.4" y="341.5" width="13" height="9" fill="#bbb" stroke="#222" stroke-width="1"/>
<rect x="325.4" y="356.8" width="13" height="8.6" fill="#fff" stroke="#222" stroke-width="1"/>
<text x="347.4" y="349.4" font-size="9.0" font-weight="normal" text-anchor="start" fill="#000" >cord blood d6</text>
<text x="347.4" y="364.6" font-size="9.0" font-weight="normal" text-anchor="start" fill="#000" >cord blood d0</text>
<text x="-0.8" y="452.6" font-size="25" font-weight="bold" text-anchor="start" fill="#000" >E</text>
<line x1="30" y1="464.2" x2="30" y2="640" stroke="#222" stroke-width="1" />
<line x1="30" y1="629.4" x2="164" y2="629.4" stroke="#222" stroke-width="1" />
<line x1="28.3" y1="639.7" x2="30" y2="639.7" stroke="#222" stroke-width="1" />
<line x1="27" y1="629.4" x2="30" y2="629.4" stroke="#222" stroke-width="1" />
<text x="26.6" y="635.0" font-size="8.3" font-weight="bold" text-anchor="end" fill="#000" >0</text>
<line x1="28.3" y1="619.1" x2="30" y2="619.1" stroke="#222" stroke-width="1" />
<line x1="27" y1="608.79" x2="30" y2="608.79" stroke="#222" stroke-width="1" />
<text x="26.6" y="614.39" font-size="8.3" font-weight="bold" text-anchor="end" fill="#000" >10</text>
<line x1="28.3" y1="598.49" x2="30" y2="598.49" stroke="#222" stroke-width="1" />
<line x1="27" y1="588.18" x2="30" y2="588.18" stroke="#222" stroke-width="1" />
<text x="26.6" y="593.78" font-size="8.3" font-weight="bold" text-anchor="end" fill="#000" >20</text>
<line x1="28.3" y1="577.88" x2="30" y2="577.88" stroke="#222" stroke-width="1" />
<line x1="27" y1="567.57" x2="30" y2="567.57" stroke="#222" stroke-width="1" />
<text x="26.6" y="573.17" font-size="8.3" font-weight="bold" text-anchor="end" fill="#000" >30</text>
<line x1="28.3" y1="557.26" x2="30" y2="557.26" stroke="#222" stroke-width="1" />
<line x1="27" y1="546.96" x2="30" y2="546.96" stroke="#222" stroke-width="1" />
<text x="26.6" y="552.5600000000001" font-size="8.3" font-weight="bold" text-anchor="end" fill="#000" >40</text>
<line x1="28.3" y1="536.65" x2="30" y2="536.65" stroke="#222" stroke-width="1" />
<line x1="27" y1="526.35" x2="30" y2="526.35" stroke="#222" stroke-width="1" />
<text x="26.6" y="531.95" font-size="8.3" font-weight="bold" text-anchor="end" fill="#000" >50</text>
<line x1="28.3" y1="516.04" x2="30" y2="516.04" stroke="#222" stroke-width="1" />
<line x1="27" y1="505.74" x2="30" y2="505.74" stroke="#222" stroke-width="1" />
<text x="26.6" y="511.34000000000003" font-size="8.3" font-weight="bold" text-anchor="end" fill="#000" >60</text>
<line x1="28.3" y1="495.43" x2="30" y2="495.43" stroke="#222" stroke-width="1" />
<line x1="27" y1="485.13" x2="30" y2="485.13" stroke="#222" stroke-width="1" />
<text x="26.6" y="490.73" font-size="8.3" font-weight="bold" text-anchor="end" fill="#000" >70</text>
<line x1="28.3" y1="474.82" x2="30" y2="474.82" stroke="#222" stroke-width="1" />
<line x1="27" y1="464.52" x2="30" y2="464.52" stroke="#222" stroke-width="1" />
<text x="26.6" y="470.12" font-size="8.3" font-weight="bold" text-anchor="end" fill="#000" >80</text>
<rect x="52.3" y="629.4" width="30" height="3.3" fill="#fff" stroke="#222" stroke-width="1"/>
<rect x="111.9" y="492.2" width="29.9" height="137.2" fill="#000"/>
<line x1="126.6" y1="473" x2="126.6" y2="492.5" stroke="#111" stroke-width="1.2" />
<line x1="123.8" y1="473" x2="129.8" y2="473" stroke="#111" stroke-width="1.2" />
<text x="53.3" y="645.6" font-size="8.8" font-weight="bold">rT<tspan font-size="5" dy="2">reg</tspan><tspan dy="-2"> d0</tspan></text>
<text x="111.8" y="645.4" font-size="8.8" font-weight="bold">rT<tspan font-size="5" dy="2">reg</tspan><tspan dy="-2"> d6</tspan></text>
<text transform="translate(7.4,596.2) rotate(-90)" font-size="9" font-weight="bold">Specific cell death (%)</text>
<text x="270.4" y="452.6" font-size="25" font-weight="bold" text-anchor="start" fill="#000" >F</text>
<polygon points="349.90,629.50 349.90,628.00 352.40,620.60 356.10,608.30 359.80,595.90 363.50,586.00 367.20,571.20 369.70,561.40 372.20,554.00 375.90,544.10 378.30,531.70 380.80,514.40 382.00,504.60 384.50,494.70 385.70,487.30 387.00,484.80 389.00,487.30 390.70,494.70 393.10,507.00 395.60,519.40 398.10,534.20 400.60,546.50 401.80,561.40 403.00,573.70 405.50,588.50 408.00,605.80 410.40,618.10 414.10,626.80 419.00,628.00 419.00,629.50" fill="#000" stroke="#000" stroke-width="0.8"/>
<polyline points="307.20,600.00 307.60,585.00 308.40,551.30 310.70,533.00 312.20,520.90 313.70,505.70 315.20,482.80 316.00,467.60 318.00,466.00 320.00,468.00 322.00,466.00 325.00,467.00 327.00,466.00 329.00,467.60 330.40,475.20 332.00,490.40 332.70,505.70 333.50,518.00 334.50,530.00 336.10,547.20 338.30,558.80 340.50,576.10 341.90,590.60 343.40,602.10 346.20,612.30 348.40,619.50 351.00,624.00 355.00,627.00" fill="none" stroke="#555" stroke-width="0.9" stroke-dasharray="1.2 1"/>
<polyline points="314.20,468.00 315.00,485.00 316.00,500.00 317.00,505.00" fill="none" stroke="#666" stroke-width="0.8" stroke-dasharray="0.9 0.9"/>
<polyline points="315.20,467.00 316.30,482.00 317.50,497.00 318.20,503.00" fill="none" stroke="#666" stroke-width="0.8" stroke-dasharray="0.9 0.9"/>
<polyline points="320.50,467.00 321.50,480.00 322.50,492.00 323.30,500.00" fill="none" stroke="#666" stroke-width="0.8" stroke-dasharray="0.9 0.9"/>
<polyline points="322.50,467.00 323.50,478.00 324.20,488.00" fill="none" stroke="#666" stroke-width="0.8" stroke-dasharray="0.9 0.9"/>
<polyline points="330.50,470.00 331.20,482.00 332.00,495.00 332.50,505.00" fill="none" stroke="#666" stroke-width="0.8" stroke-dasharray="0.9 0.9"/>
<polyline points="315.50,467.00 316.50,478.00 317.50,490.00 318.70,503.00 319.80,504.00 320.50,490.00 321.50,475.00 322.50,467.00" fill="none" stroke="#777" stroke-width="0.8" stroke-dasharray="1 1"/>
<polyline points="309.10,536.00 310.50,515.00 311.40,498.00 312.50,482.00 313.50,470.00" fill="none" stroke="#777" stroke-width="0.8" stroke-dasharray="1 1"/>
<polyline points="306.00,609.00 307.20,619.00 308.50,612.00 310.10,610.80 311.60,602.00 312.30,612.00 313.50,604.00 314.50,606.50 315.90,612.00 317.30,602.00 318.50,604.00 320.20,598.00 321.70,596.00 323.10,583.00 323.80,578.00 325.00,588.00 326.70,597.00 327.50,583.00 328.90,562.00 330.30,544.00 331.80,547.00 333.00,538.00 334.50,530.00 335.30,509.00 336.20,530.00 337.40,524.00 338.50,532.00 340.00,535.00 341.00,530.00 342.20,529.00 343.00,545.00 344.00,568.00 346.20,590.00 349.10,612.00 350.60,620.00 352.50,623.00 356.00,626.50 362.00,628.00" fill="none" stroke="#000" stroke-width="1.5" stroke-linejoin="round"/>
<line x1="305.9" y1="628.7" x2="430.5" y2="628.7" stroke="#000" stroke-width="1.8" />
<rect x="305.9" y="464.9" width="124.60000000000002" height="164.60000000000002" fill="none" stroke="#222" stroke-width="1"/>
<line x1="305.9" y1="629.5" x2="305.9" y2="632.5" stroke="#222" stroke-width="1" />
<text x="307.4" y="641.3" font-size="8" font-weight="bold" text-anchor="middle">10<tspan font-size="5" dy="-3.2">0</tspan></text>
<line x1="337" y1="629.5" x2="337" y2="632.5" stroke="#222" stroke-width="1" />
<text x="338.5" y="641.3" font-size="8" font-weight="bold" text-anchor="middle">10<tspan font-size="5" dy="-3.2">1</tspan></text>
<line x1="368.1" y1="629.5" x2="368.1" y2="632.5" stroke="#222" stroke-width="1" />
<text x="369.59999999999997" y="641.3" font-size="8" font-weight="bold" text-anchor="middle">10<tspan font-size="5" dy="-3.2">2</tspan></text>
<line x1="399.2" y1="629.5" x2="399.2" y2="632.5" stroke="#222" stroke-width="1" />
<text x="400.7" y="641.3" font-size="8" font-weight="bold" text-anchor="middle">10<tspan font-size="5" dy="-3.2">3</tspan></text>
<line x1="430.3" y1="629.5" x2="430.3" y2="632.5" stroke="#222" stroke-width="1" />
<text x="431.79999999999995" y="641.3" font-size="8" font-weight="bold" text-anchor="middle">10<tspan font-size="5" dy="-3.2">4</tspan></text>
<text x="354.0" y="656.0" font-size="8.4" font-weight="bold" text-anchor="start" fill="#000" >CD95</text>
<line x1="394.4" y1="652.9" x2="426" y2="652.9" stroke="#000" stroke-width="1.3" />
<polygon points="425,650.2 431.3,652.9 425,655.6" fill="#000"/>
<text transform="translate(296.5,562.4) rotate(-90)" font-size="8.2" font-weight="bold">counts</text>
<rect x="437.8" y="466" width="25.4" height="10.8" fill="#000"/>
<rect x="438.3" y="483" width="24.4" height="9.8" fill="#fff" stroke="#111" stroke-width="1.1"/>
<line x1="438.3" y1="487.9" x2="462.7" y2="487.9" stroke="#111" stroke-width="0.9" />
<rect x="438.3" y="501.2" width="24.4" height="9.8" fill="#fff" stroke="#444" stroke-width="0.9"/>
<line x1="438.3" y1="506.2" x2="462.7" y2="506.2" stroke="#888" stroke-width="0.8" />
<text x="475.8" y="474.7" font-size="9.0">rT<tspan font-size="5.2" dy="2.4">reg</tspan><tspan dy="-2.4"> d6</tspan></text>
<text x="475.8" y="491.1" font-size="9.0">rT<tspan font-size="5.2" dy="2.4">reg</tspan><tspan dy="-2.4"> d0</tspan></text>
<text x="475.8" y="511.6" font-size="9.0" style="white-space:pre">isotype  ctrl</text>
</svg>
</body></html>
